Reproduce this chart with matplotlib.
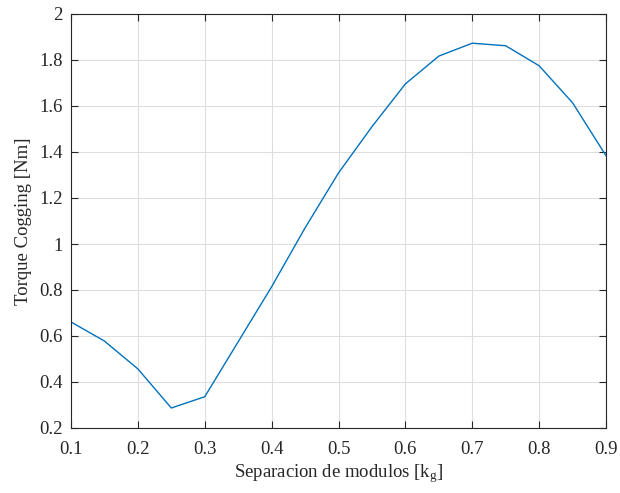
import matplotlib
matplotlib.use("Agg")
import matplotlib.pyplot as plt
import numpy as np

# separacion de modulos vs torque cogging
kg = [0.1, 0.15, 0.2, 0.25, 0.3, 0.35, 0.4, 0.45, 0.5,
      0.55, 0.6, 0.65, 0.7, 0.75, 0.8, 0.85, 0.9]
torque = [0.661, 0.578, 0.457, 0.287, 0.336, 0.575, 0.814, 1.07, 1.309,
          1.51, 1.696, 1.817, 1.873, 1.862, 1.775, 1.614, 1.384]

xticks = [0.1, 0.2, 0.3, 0.4, 0.5, 0.6, 0.7, 0.8, 0.9]
yticks = [0.2, 0.4, 0.6, 0.8, 1.0, 1.2, 1.4, 1.6, 1.8, 2.0]
ytick_labels = ["0.2", "0.4", "0.6", "0.8", "1", "1.2", "1.4", "1.6", "1.8", "2"]

plt.rcParams['font.family'] = ['Liberation Serif', 'DejaVu Serif']
plt.rcParams['mathtext.fontset'] = 'custom'
plt.rcParams['mathtext.rm'] = 'Liberation Serif'
plt.rcParams['mathtext.it'] = 'Liberation Serif'

dark = '#262626'

fig = plt.figure(figsize=(6.2, 4.93), dpi=100)
ax = fig.add_axes([71/620, 1 - 428/493, (606 - 71)/620, (428 - 14)/493])

ax.plot(kg, torque, color='#0072BD', linewidth=1.0)

ax.set_xlim(0.1, 0.9)
ax.set_ylim(0.2, 2.0)
ax.set_xticks(xticks)
ax.set_xticklabels([f"{t:g}" for t in xticks])
ax.set_yticks(yticks)
ax.set_yticklabels(ytick_labels)

ax.grid(True, color='#dedede', linewidth=0.8)
ax.set_axisbelow(True)

for s in ax.spines.values():
    s.set_color(dark)
    s.set_linewidth(0.8)

ax.tick_params(direction='in', top=True, right=True, length=5, width=0.8,
               color=dark, labelcolor=dark, labelsize=13.5)
ax.tick_params(axis='x', pad=9)
ax.tick_params(axis='y', pad=6)

ax.set_xlabel("Separacion de modulos [k$_\\mathrm{g}$]", fontsize=13.5, color=dark, labelpad=3)
ax.set_ylabel("Torque Cogging [Nm]", fontsize=13.5, color=dark, labelpad=5)

fig.savefig("out.png", dpi=100)
